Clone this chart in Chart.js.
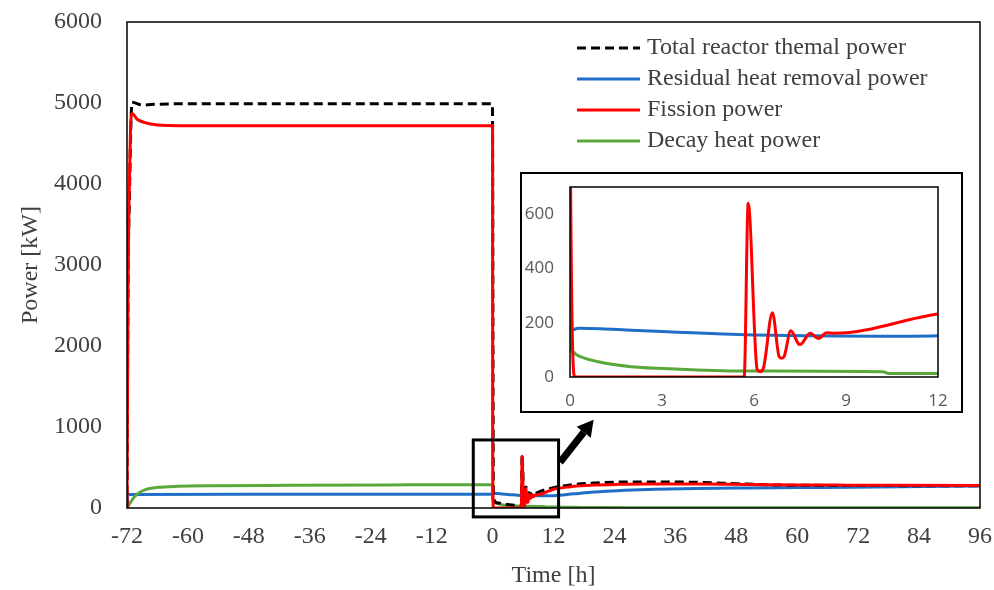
<!DOCTYPE html>
<html>
<head>
<meta charset="utf-8">
<script src="https://cdn.jsdelivr.net/npm/chart.js@4.4.0/dist/chart.umd.min.js"></script>
<style>
    html, body { margin: 0; padding: 0; background: #fff; }
    #wrap { position: relative; width: 994px; height: 590px; }
    #mainChart { position: absolute; left: 0; top: 0; }
    #inset {
        position: absolute; left: 520px; top: 172px;
        width: 443px; height: 241px; box-sizing: border-box;
        border: 2px solid #000; background: #fff;
    }
    #insetChart { display: block; }
</style>
</head>
<body>
<div id="wrap">
    <canvas id="mainChart" width="994" height="590"></canvas>
    <div id="inset"><canvas id="insetChart" width="439" height="237"></canvas></div>
</div>
<script>
// Series data (time in h, power in kW)
const totalTime  = [-72, -71.8, -71.5, -71.2, -71, -69, -66, -60, -0.05, 0, 0.16, 1, 3, 5.68, 5.81, 6.19, 6.6, 6.9, 7.2, 7.5, 7.83, 8.1, 8.6, 12, 15, 20, 25, 30, 40, 48, 55, 70, 96];
const totalPower = [0, 2700, 3900, 4800, 5010, 4975, 4985, 4990, 4990, 4720, 130, 62, 42, 30, 660, 45, 260, 95, 190, 145, 185, 165, 185, 250, 282, 308, 320, 322, 318, 300, 285, 278, 275];

const residualTime  = [-72, -71.8, -40, -0.05, 0.3, 1, 2, 3.5, 5, 6, 8, 10, 12, 16, 20, 26, 32, 40, 50, 60, 76, 96];
const residualPower = [0, 168, 170, 170, 180, 178, 172, 165, 158, 155, 152, 150, 152, 175, 198, 218, 232, 242, 248, 252, 258, 272];

const fissionTime  = [-72, -71.8, -71.6, -71.3, -71, -70, -68, -65, -60, -0.05, 0, 0.02, 0.16, 5.68, 5.81, 6.1, 6.19, 6.3, 6.6, 6.82, 6.9, 6.98, 7.2, 7.45, 7.5, 7.55, 7.83, 8.1, 8.37, 8.64, 12, 15, 20, 25, 30, 40, 50, 60, 70, 80, 96];
const fissionPower = [0, 2700, 3800, 4700, 4870, 4800, 4750, 4725, 4720, 4720, 4720, 700, 0, 0, 640, 30, 20, 30, 237, 75, 69, 75, 170, 122, 120, 122, 161, 142, 163, 161, 232, 260, 283, 292, 296, 295, 290, 285, 282, 280, 278];

const decayTime  = [-72, -71, -70, -69, -68, -66, -62, -55, -40, -20, -0.05, 0, 0.02, 0.1, 0.2, 0.38, 0.92, 2, 3.6, 5.8, 10.2, 10.4, 12, 16, 20, 30, 96];
const decayPower = [0, 100, 170, 210, 235, 255, 268, 275, 280, 285, 288, 286, 110, 92, 83, 73, 56, 38, 29, 22, 19, 13, 13, 9, 5, 3, 3];

const seriesNames = ['Total reactor themal power', 'Residual heat removal power', 'Fission power', 'Decay heat power'];
const seriesColors = ['#000000', '#1f6fc9', '#ff0000', '#5aa83b'];

const mainXTicks = [-72, 96, 12];      // min, max, step
const mainYTicks = [0, 6000, 1000];
const insetXTicks = [0, 12, 3];
const insetYTicks = [0, 700, 200, 600]; // min, max, step, last labelled

// zoom box and arrow, in data units of the main chart
const zoomBox = { x0: -3.8, x1: 13.0, y0: -110, y1: 840 };
const arrowFrom = { x: 13.3, y: 565 };
const arrowTo = { x: 19.9, y: 1090 };

const serif = "'Liberation Serif', 'Times New Roman', serif";
const sans = "'Open Sans', 'Noto Sans', sans-serif";

function pts(xs, ys) {
    return xs.map((x, i) => ({ x: x, y: ys[i] }));
}

function makeDatasets(withTotal) {
    const sets = [
        { label: seriesNames[0], data: pts(totalTime, totalPower), borderColor: seriesColors[0], borderDash: [9, 5], order: 1 },
        { label: seriesNames[1], data: pts(residualTime, residualPower), borderColor: seriesColors[1], order: 3 },
        { label: seriesNames[2], data: pts(fissionTime, fissionPower), borderColor: seriesColors[2], order: 0 },
        { label: seriesNames[3], data: pts(decayTime, decayPower), borderColor: seriesColors[3], order: 2 }
    ];
    sets.forEach(s => {
        s.borderWidth = 3;
        s.pointRadius = 0;
        s.cubicInterpolationMode = 'monotone';
        s.fill = false;
    });
    return withTotal ? sets : sets.slice(1);
}

// keep label overflow from pushing the plot area around
function noPadX(s, h) { s.height = h; s.paddingLeft = 0; s.paddingRight = 0; }
function noPadY(s, w) { s.width = w; s.paddingTop = 0; s.paddingBottom = 0; }

// frame around the plot area
const framePlugin = {
    id: 'frame',
    afterDatasetsDraw(chart, args, opts) {
        const a = chart.chartArea;
        const ctx = chart.ctx;
        ctx.save();
        ctx.strokeStyle = '#000';
        ctx.lineWidth = opts.width || 1.5;
        ctx.strokeRect(a.left, a.top, a.right - a.left, a.bottom - a.top);
        ctx.restore();
    }
};

// zoom box, arrow and legend on the main chart
const annotatePlugin = {
    id: 'annotate',
    afterDraw(chart) {
        const ctx = chart.ctx;
        const xs = chart.scales.x, ys = chart.scales.y;
        ctx.save();

        // zoom box
        const bx0 = xs.getPixelForValue(zoomBox.x0), bx1 = xs.getPixelForValue(zoomBox.x1);
        const by0 = ys.getPixelForValue(zoomBox.y0), by1 = ys.getPixelForValue(zoomBox.y1);
        ctx.strokeStyle = '#000';
        ctx.lineWidth = 3;
        ctx.strokeRect(bx0, by1, bx1 - bx0, by0 - by1);

        // arrow
        const ax = xs.getPixelForValue(arrowFrom.x), ay = ys.getPixelForValue(arrowFrom.y);
        const tx = xs.getPixelForValue(arrowTo.x), ty = ys.getPixelForValue(arrowTo.y);
        const ang = Math.atan2(ty - ay, tx - ax);
        const headLen = 16, headW = 9;
        const hx = tx - headLen * Math.cos(ang), hy = ty - headLen * Math.sin(ang);
        ctx.lineWidth = 7;
        ctx.lineCap = 'butt';
        ctx.beginPath();
        ctx.moveTo(ax, ay);
        ctx.lineTo(hx, hy);
        ctx.stroke();
        ctx.fillStyle = '#000';
        ctx.beginPath();
        ctx.moveTo(tx, ty);
        ctx.lineTo(hx + headW * Math.sin(ang), hy - headW * Math.cos(ang));
        ctx.lineTo(hx - headW * Math.sin(ang), hy + headW * Math.cos(ang));
        ctx.closePath();
        ctx.fill();

        // legend
        const lx = chart.chartArea.left + 450;
        let ly = chart.chartArea.top + 26;
        ctx.font = '24px ' + serif;
        ctx.textBaseline = 'middle';
        ctx.textAlign = 'left';
        chart.data.datasets.forEach(ds => {
            ctx.strokeStyle = ds.borderColor;
            ctx.lineWidth = 3;
            ctx.setLineDash(ds.borderDash || []);
            ctx.beginPath();
            ctx.moveTo(lx, ly);
            ctx.lineTo(lx + 63, ly);
            ctx.stroke();
            ctx.setLineDash([]);
            ctx.fillStyle = '#404040';
            ctx.fillText(ds.label, lx + 70, ly);
            ly += 31;
        });
        ctx.restore();
    }
};

const mainChart = new Chart(document.getElementById('mainChart').getContext('2d'), {
    type: 'line',
    data: { datasets: makeDatasets(true) },
    options: {
        responsive: false,
        animation: false,
        layout: { padding: { left: 0, right: 14, top: 22, bottom: 0 } },
        plugins: { legend: { display: false }, tooltip: { enabled: false }, frame: { width: 1.5 } },
        scales: {
            x: {
                type: 'linear',
                min: mainXTicks[0], max: mainXTicks[1],
                grid: { display: false, drawTicks: false },
                border: { display: false },
                ticks: { stepSize: mainXTicks[2], padding: 14, color: '#404040', font: { family: serif, size: 24 }, maxRotation: 0, callback: v => String(v) },
                title: { display: true, text: 'Time [h]', color: '#404040', font: { family: serif, size: 24 }, padding: { top: 0, bottom: 0 } },
                afterFit: s => noPadX(s, 82)
            },
            y: {
                min: mainYTicks[0], max: mainYTicks[1],
                grid: { display: false, drawTicks: false },
                border: { display: false },
                ticks: { stepSize: mainYTicks[2], padding: 25, color: '#404040', font: { family: serif, size: 24 }, callback: v => String(v) },
                title: { display: true, text: 'Power [kW]', color: '#404040', font: { family: serif, size: 24 }, padding: { top: 16, bottom: 0 } },
                afterFit: s => noPadY(s, 127)
            }
        }
    },
    plugins: [framePlugin, annotatePlugin]
});

const insetChart = new Chart(document.getElementById('insetChart').getContext('2d'), {
    type: 'line',
    data: { datasets: makeDatasets(false) },
    options: {
        responsive: false,
        animation: false,
        layout: { padding: { left: 0, right: 23, top: 13, bottom: 0 } },
        plugins: { legend: { display: false }, tooltip: { enabled: false }, frame: { width: 1.5 } },
        scales: {
            x: {
                type: 'linear',
                min: insetXTicks[0], max: insetXTicks[1],
                grid: { display: false, drawTicks: false },
                border: { display: false },
                ticks: { stepSize: insetXTicks[2], padding: 14, color: '#595959', font: { family: sans, size: 17 }, maxRotation: 0 },
                afterFit: s => noPadX(s, 34)
            },
            y: {
                min: insetYTicks[0], max: insetYTicks[1],
                grid: { display: false, drawTicks: false },
                border: { display: false },
                afterBuildTicks: s => { s.ticks = s.ticks.filter(t => t.value <= insetYTicks[3]); },
                ticks: { stepSize: insetYTicks[2], padding: 16, color: '#595959', font: { family: sans, size: 17 } },
                afterFit: s => noPadY(s, 48)
            }
        }
    },
    plugins: [framePlugin]
});
</script>
</body>
</html>
